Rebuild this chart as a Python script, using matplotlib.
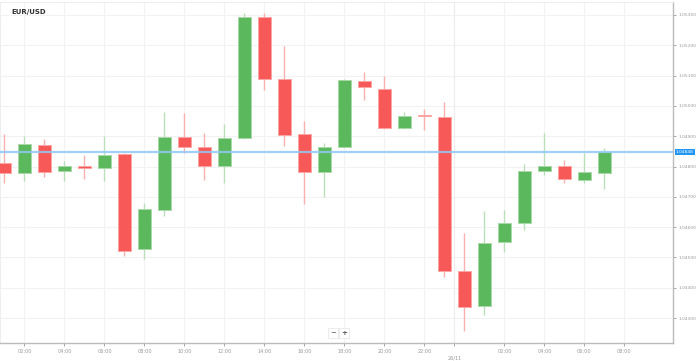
import matplotlib
matplotlib.use('agg')
import matplotlib.pyplot as plt
import numpy as np

# hourly candles, x = hour counted from 00:00 on 25/11 (24 = 00:00 on 26/11)
hours = np.arange(1, 32)
opens = [1.04813, 1.04780, 1.04870, 1.04784, 1.04802, 1.04796, 1.04840, 1.04527,
         1.04656, 1.04898, 1.04865, 1.04803, 1.04893, 1.05294, 1.05088, 1.04906,
         1.04781, 1.04865, 1.05081, 1.05057, 1.04926, 1.04970, 1.04963, 1.04455,
         1.04340, 1.04551, 1.04613, 1.04784, 1.04802, 1.04756, 1.04780]
highs = [1.04907, 1.04902, 1.04890, 1.04818, 1.04837, 1.04902, 1.04846, 1.04681,
         1.04979, 1.04976, 1.04910, 1.04939, 1.05308, 1.05308, 1.05198, 1.04951,
         1.04877, 1.05088, 1.05113, 1.05099, 1.04979, 1.04991, 1.05014, 1.04580,
         1.04653, 1.04655, 1.04807, 1.04910, 1.04822, 1.04844, 1.04862]
lows = [1.04747, 1.04752, 1.04764, 1.04752, 1.04759, 1.04752, 1.04505, 1.04496,
        1.04638, 1.04844, 1.04756, 1.04747, 1.04890, 1.05052, 1.04869, 1.04675,
        1.04698, 1.04862, 1.05020, 1.04923, 1.04924, 1.04921, 1.04434, 1.04258,
        1.04311, 1.04519, 1.04590, 1.04772, 1.04747, 1.04747, 1.04726]
closes = [1.04780, 1.04874, 1.04783, 1.04801, 1.04796, 1.04839, 1.04522, 1.04659,
          1.04898, 1.04865, 1.04803, 1.04894, 1.05292, 1.05088, 1.04904, 1.04781,
          1.04865, 1.05085, 1.05061, 1.04926, 1.04968, 1.04966, 1.04455, 1.04337,
          1.04547, 1.04615, 1.04786, 1.04802, 1.04759, 1.04781, 1.04848]
last_price = 1.04848

xtick_pos = [2, 4, 6, 8, 10, 12, 14, 16, 18, 20, 22, 26, 28, 30, 32]
xtick_lab = ['02:00', '04:00', '06:00', '08:00', '10:00', '12:00', '14:00', '16:00',
             '18:00', '20:00', '22:00', '02:00', '04:00', '06:00', '08:00']
day_pos = 23.5
day_lab = '26/11'
ytick_pos = [1.043, 1.044, 1.045, 1.046, 1.047, 1.048, 1.049, 1.050, 1.051, 1.052, 1.053]

green = '#5cb85c'
red = '#f75959'
green_w = '#b9e0b9'
red_w = '#fbb0b0'

fig = plt.figure(figsize=(6.98, 3.61), dpi=100)
ax = fig.add_axes([0, 18 / 361, 673 / 698, 341 / 361])

o = np.array(opens); c = np.array(closes); h = np.array(highs); l = np.array(lows)
up = c >= o

ax.vlines(hours[up], l[up], h[up], color=green_w, lw=1, zorder=2)
ax.vlines(hours[~up], l[~up], h[~up], color=red_w, lw=1, zorder=2)
bot = np.minimum(o, c)
hgt = np.maximum(np.abs(c - o), 0.000012)
ax.bar(hours[up], hgt[up], bottom=bot[up], width=0.65, color=green,
       edgecolor='#a9d8a9', lw=0.7, zorder=3)
ax.bar(hours[~up], hgt[~up], bottom=bot[~up], width=0.65, color=red,
       edgecolor='#fca5a5', lw=0.7, zorder=3)

ax.axhline(last_price, color='#90c8f5', lw=1.6, alpha=0.85, zorder=4)

ax.set_xlim(0.775, 34.43)
ax.set_ylim(1.042175, 1.053429)

# grid
for y in ytick_pos:
    ax.axhline(y, color='#f2f2f2', lw=0.8, zorder=0)
for x in xtick_pos:
    ax.axvline(x, color='#f2f2f2', lw=0.8, zorder=0)
ax.axvline(day_pos, color='#ececec', lw=0.8, zorder=0)

ax.yaxis.tick_right()
ax.set_yticks(ytick_pos)
ax.set_yticklabels(['%.5f' % v for v in ytick_pos])
ax.set_xticks(xtick_pos + [day_pos])
ax.set_xticklabels(xtick_lab + ['\n' + day_lab])
ax.tick_params(axis='x', labelsize=3.6, colors='#999999', length=2.5, width=0.6,
               pad=2)
ax.tick_params(axis='y', labelsize=3.2, colors='#999999', length=2.2, width=0.6,
               pad=1.5)

for s in ['left', 'top']:
    ax.spines[s].set_color('#eeeeee')
    ax.spines[s].set_linewidth(0.8)
for s in ['right', 'bottom']:
    ax.spines[s].set_color('#bbbbbb')
    ax.spines[s].set_linewidth(1.0)

# current price tag
ax.text(1.004, last_price, '%.5f' % last_price, transform=ax.get_yaxis_transform(),
        fontsize=3.2, color='white', va='center', ha='left', zorder=6,
        bbox=dict(boxstyle='square,pad=0.25', fc='#2196f3', ec='none'),
        clip_on=False)

ax.text(11 / 673, 1 - 10 / 341, 'EUR/USD', transform=ax.transAxes, fontsize=5,
        fontweight='bold', color='#333333', va='center', ha='left')

# zoom buttons
ax.text(333 / 673, 10 / 341, '\u2212', transform=ax.transAxes, fontsize=5,
        color='#555555', ha='center', va='center',
        bbox=dict(boxstyle='square,pad=0.3', fc='white', ec='#e5e5e5', lw=0.5))
ax.text(344 / 673, 10 / 341, '+', transform=ax.transAxes, fontsize=5,
        color='#555555', ha='center', va='center', fontweight='bold',
        bbox=dict(boxstyle='square,pad=0.3', fc='white', ec='#e5e5e5', lw=0.5))

plt.savefig('out.png', dpi=100)
